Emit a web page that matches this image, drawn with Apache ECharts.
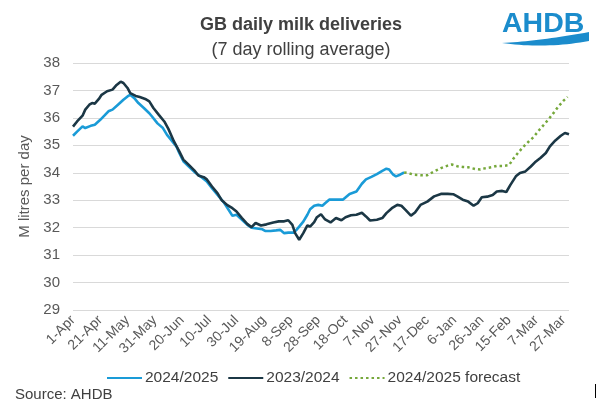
<!DOCTYPE html>
<html>
<head>
<meta charset="utf-8">
<script src="https://cdn.jsdelivr.net/npm/echarts@6/dist/echarts.min.js"></script>
<style>
html,body{margin:0;padding:0;background:#fff;}
#chart{width:602px;height:412px;}
</style>
</head>
<body>
<div id="chart"></div>
<script>
// x tick labels (every 20 days from 1-Apr; day index 0..364)
const tickLabels = ['1-Apr','21-Apr','11-May','31-May','20-Jun','10-Jul','30-Jul','19-Aug','8-Sep','28-Sep','18-Oct','7-Nov','27-Nov','17-Dec','6-Jan','26-Jan','15-Feb','7-Mar','27-Mar'];
const seriesNames = ['2024/2025','2023/2024','2024/2025 forecast'];

// 2023/2024 (day index since 1-Apr, M litres/day)
const days2324 = [0,3,7,9,12,14,16,19,21,25,29,32,35,37,40,42,46,49,53,56,59,63,67,70,74,78,81,85,89,92,96,98,102,106,109,113,117,120,124,128,131,134,138,142,147,151,155,158,161,163,166,167,169,172,174,177,179,182,185,189,193,197,200,204,208,212,215,218,223,227,230,234,238,241,244,248,251,255,260,265,270,275,279,282,286,290,294,297,300,304,308,311,315,318,321,325,328,332,336,339,343,347,350,354,358,361,364];
const vals2324 = [35.68,35.87,36.08,36.3,36.48,36.54,36.52,36.69,36.84,36.97,37.03,37.2,37.32,37.27,37.09,36.9,36.8,36.76,36.69,36.6,36.36,36.11,35.87,35.6,35.15,34.78,34.48,34.29,34.09,33.9,33.84,33.77,33.5,33.26,33.01,32.83,32.71,32.59,32.35,32.13,32.02,32.17,32.08,32.12,32.19,32.23,32.23,32.27,32.1,31.8,31.56,31.53,31.8,32.08,32.04,32.2,32.38,32.49,32.3,32.19,32.35,32.27,32.38,32.45,32.47,32.54,32.41,32.26,32.29,32.35,32.53,32.71,32.83,32.8,32.65,32.44,32.55,32.83,32.95,33.14,33.23,33.23,33.22,33.14,33.02,32.95,32.8,32.89,33.11,33.13,33.19,33.32,33.34,33.3,33.56,33.87,33.99,34.05,34.23,34.38,34.54,34.72,34.96,35.18,35.35,35.45,35.4];

// 2024/2025 actual
const days2425 = [0,3,7,9,13,16,20,23,26,29,33,37,40,42,45,48,52,56,58,62,66,69,72,76,78,81,85,90,95,98,102,107,111,115,117,120,124,128,131,135,139,141,145,149,152,155,158,162,164,166,169,172,174,177,180,183,185,188,193,198,203,208,212,215,219,223,227,230,232,235,237,240,243];
const vals2425 = [35.35,35.5,35.69,35.63,35.71,35.75,35.93,36.08,36.24,36.3,36.48,36.66,36.78,36.84,36.72,36.54,36.36,36.17,36.05,35.8,35.63,35.38,35.2,34.95,34.72,34.42,34.23,33.99,33.81,33.69,33.44,33.14,32.9,32.59,32.43,32.47,32.29,32.1,32.0,31.97,31.94,31.88,31.88,31.9,31.92,31.8,31.82,31.82,31.92,32.04,32.22,32.47,32.67,32.8,32.83,32.8,32.89,33.02,33.02,33.02,33.23,33.32,33.6,33.76,33.85,33.95,34.07,34.15,34.12,33.93,33.87,33.93,34.01];

// 2024/2025 forecast
const daysFc = [243,246,250,256,260,265,270,275,278,282,286,290,295,299,302,307,311,316,320,323,327,331,334,338,342,345,349,353,356,360,363];
const valsFc = [34.01,33.99,33.93,33.91,33.91,34.05,34.17,34.26,34.3,34.24,34.21,34.2,34.14,34.12,34.16,34.2,34.25,34.25,34.28,34.5,34.75,34.97,35.12,35.3,35.55,35.72,35.95,36.2,36.4,36.63,36.76];

const pairs = (d, v) => d.map((x, i) => [x, v[i]]);
const FONT = 'Liberation Sans, Arial, sans-serif';

// logo swoosh outline (decorative)
function quad(p0, p1, p2, n) {
  const pts = [];
  for (let k = 0; k <= n; k++) {
    const t = k / n, a = (1 - t) * (1 - t), b = 2 * (1 - t) * t, c = t * t;
    pts.push([a * p0[0] + b * p1[0] + c * p2[0], a * p0[1] + b * p1[1] + c * p2[1]]);
  }
  return pts;
}
const swoosh = quad([502, 43], [540, 41], [589, 32], 20).concat(quad([589, 41], [545, 49], [502, 43], 20));

const chart = echarts.init(document.getElementById('chart'), null, {renderer: 'canvas'});
chart.setOption({
  backgroundColor: '#ffffff',
  animation: false,
  textStyle: {fontFamily: FONT},
  title: {
    text: 'GB daily milk deliveries',
    subtext: '(7 day rolling average)',
    left: 'center',
    top: 11,
    itemGap: 7,
    textStyle: {fontFamily: FONT, fontSize: 18, fontWeight: 'bold', color: '#404040'},
    subtextStyle: {fontFamily: FONT, fontSize: 18, color: '#404040'}
  },
  grid: {left: 73, right: 33, top: 63, bottom: 102, containLabel: false},
  legend: {
    left: 101,
    top: 365,
    itemWidth: 35,
    itemHeight: 2,
    itemGap: 9,
    itemStyle: {opacity: 0},
    textStyle: {fontFamily: FONT, fontSize: 15.5, color: '#404040', padding: [0, 0, 0, -2]},
    data: seriesNames
  },
  xAxis: {
    type: 'value',
    min: 0,
    max: 364,
    interval: 20,
    axisLine: {show: false},
    axisTick: {show: false},
    splitLine: {show: false},
    axisLabel: {
      rotate: 45,
      margin: 8,
      fontSize: 14,
      fontFamily: FONT,
      color: '#595959',
      showMaxLabel: false,
      formatter: function (v) {
        const i = Math.round(v / 20);
        return (v % 20 === 0 && i < tickLabels.length) ? tickLabels[i] : '';
      }
    }
  },
  yAxis: {
    type: 'value',
    min: 29,
    max: 38,
    interval: 1,
    name: 'M litres per day',
    nameLocation: 'middle',
    nameGap: 31,
    nameTextStyle: {fontFamily: FONT, fontSize: 15, color: '#595959'},
    axisLine: {show: false},
    axisTick: {show: false},
    axisLabel: {fontSize: 15, fontFamily: FONT, color: '#595959', margin: 13},
    splitLine: {lineStyle: {color: '#d9d9d9', width: 1}}
  },
  series: [
    {
      name: seriesNames[0], type: 'line', symbol: 'none', showSymbol: false,
      data: pairs(days2425, vals2425),
      lineStyle: {color: '#1a9bd7', width: 2.6},
      itemStyle: {color: '#1a9bd7'}, z: 2
    },
    {
      name: seriesNames[1], type: 'line', symbol: 'none', showSymbol: false,
      data: pairs(days2324, vals2324),
      lineStyle: {color: '#1b3745', width: 2.6},
      itemStyle: {color: '#1b3745'}, z: 3
    },
    {
      name: seriesNames[2], type: 'line', symbol: 'none', showSymbol: false,
      data: pairs(daysFc, valsFc),
      lineStyle: {color: '#76a83b', width: 2.5, type: [2.5, 3]},
      itemStyle: {color: '#76a83b'}, z: 2
    }
  ],
  graphic: [
    {
      type: 'text', left: 15, top: 387,
      style: {text: 'Source: AHDB', fontFamily: FONT, fontSize: 15, fill: '#404040'}
    },
    {
      type: 'text', x: 502, y: 24,
      style: {text: 'AHDB', fontFamily: FONT, fontSize: 28.5, fontWeight: 'bold', fill: '#1b8ccc', verticalAlign: 'middle', align: 'left'}
    },
    {
      type: 'polygon',
      shape: {points: swoosh},
      style: {fill: '#1b8ccc'}
    },
    {
      type: 'rect', shape: {x: 595, y: 384, width: 1, height: 14},
      style: {fill: '#000000'}
    }
  ]
});
</script>
</body>
</html>
